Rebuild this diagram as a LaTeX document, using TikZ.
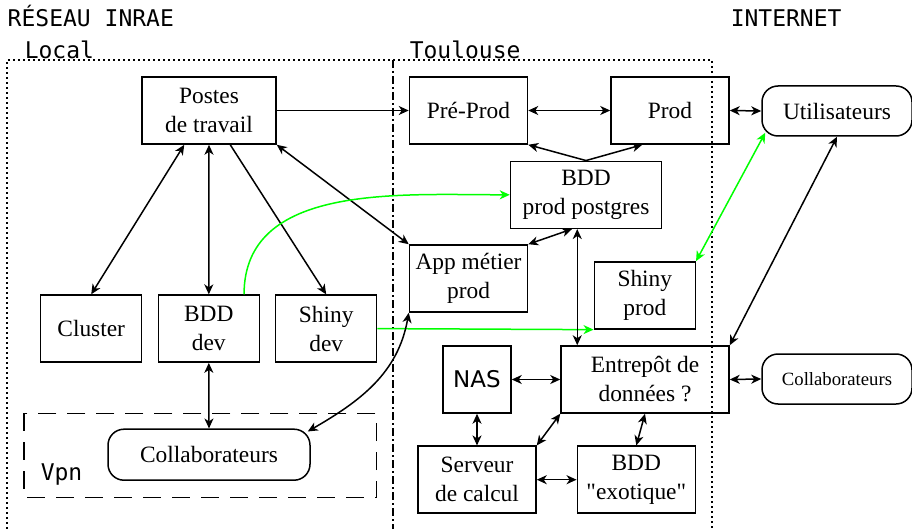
\documentclass[tikz,border=0pt]{standalone}
\usepackage{fontspec}
\newfontfamily\serif{Liberation Serif}
\newfontfamily\monof{DejaVu Sans Mono}
\newfontfamily\sansf{DejaVu Sans}
\usetikzlibrary{arrows.meta,calc}
\begin{document}
\begin{tikzpicture}[x=1pt,y=1pt,
  every path/.style={line width=1.5pt},
  >={Stealth[length=10pt,width=9pt,inset=3pt]},
  box/.style={draw,line width=1.5pt,inner sep=0pt,align=center,
    font=\serif\fontsize{23.4}{29}\selectfont},
  rbox/.style={box,rounded corners=16pt},
  zone/.style={font=\monof\fontsize{23}{28}\selectfont,anchor=base west,inner sep=0pt},
  dotline/.style={dash pattern=on 2pt off 3pt},
  dashdotline/.style={dash pattern=on 8pt off 3pt on 2pt off 3pt},
  vpnline/.style={dash pattern=on 18pt off 11pt},
  gline/.style={draw=green}]
\useasboundingbox (0,0) rectangle (912,-529);
% zones
\draw[dotline] (7,-529) -- (7,-60) -- (393,-60);
\draw[dotline] (393,-60) -- (712,-60) -- (712,-529);
\draw[dashdotline] (393,-60) -- (393,-529);
\draw[vpnline] (24,-413.3) rectangle (376.7,-497.3);
\node[zone] (reseau) at (7,-27) {RÉSEAU INRAE};
\node[zone] (internet) at (730,-27) {INTERNET};
\node[zone] (local) at (24,-59) {Local};
\node[zone] (toulouse) at (409,-59) {Toulouse};
\node[zone] (vpn) at (40,-480) {Vpn};
% nodes
\node[box,minimum width=134pt,minimum height=67pt] (postes) at (209,-110.5) {Postes\\de travail};
\node[box,minimum width=118pt,minimum height=67pt] (preprod) at (468.5,-110.5) {Pré-Prod};
\node[box,minimum width=118pt,minimum height=67pt] (prod) at (670,-110.5) {Prod};
\node[rbox,minimum width=150pt,minimum height=50pt] (util) at (837,-111) {Utilisateurs};
\node[box,minimum width=151pt,minimum height=67pt] (bddp) at (586,-194.8) {BDD\\prod postgres};
\node[box,minimum width=118pt,minimum height=67pt] (app) at (468.5,-278.5) {App métier\\prod};
\node[box,minimum width=101pt,minimum height=67pt] (shinyp) at (644.8,-295.4) {Shiny\\prod};
\node[box,minimum width=101pt,minimum height=67pt] (cluster) at (91.2,-328.6) {Cluster};
\node[box,minimum width=101pt,minimum height=67pt] (bdddev) at (208.8,-328.6) {BDD\\dev};
\node[box,minimum width=101pt,minimum height=67pt] (shinydev) at (326.2,-328.6) {Shiny\\dev};
\node[box,minimum width=168pt,minimum height=67pt] (entrepot) at (645,-379.5) {Entrepôt de\\données ?};
\node[box,minimum width=68pt,minimum height=67pt,font=\sansf\fontsize{23}{28}\selectfont] (nas) at (477,-379.5) {NAS};
\node[box,minimum width=118pt,minimum height=67pt] (serveur) at (477,-479.7) {Serveur\\de calcul};
\node[box,minimum width=118pt,minimum height=67pt] (bddexo) at (636.3,-479.7) {BDD\\"exotique"};
\node[rbox,minimum width=150pt,minimum height=50pt,font=\serif\fontsize{18.7}{23}\selectfont] (collabR) at (837,-379) {Collaborateurs};
\node[rbox,minimum width=202pt,minimum height=51pt] (collabL) at (209,-454.7) {Collaborateurs};
% connectors
\draw[->] (postes.east) -- (preprod.west);
\draw[<->] (preprod.east) -- (prod.west);
\draw[<->] (prod.east) -- (util.west);
\draw[->] (bddp.north) -- (preprod.south east);
\coordinate (prodin) at ($(prod.south west)+(32,0)$);
\draw[->] (bddp.north) -- (prodin);
\coordinate (pc) at ($(postes.south west)+(43,0)$);
\draw[<->] (pc) -- (cluster.north);
\draw[<->] (postes.south) -- (bdddev.north);
\coordinate (ps) at ($(postes.south west)+(89,0)$);
\draw[->] (ps) -- (shinydev.north);
\draw[<->] (postes.south east) -- (app.north west);
\coordinate (bdo) at ($(bdddev.north east)+(-16,0)$);
\draw[gline,->] (bdo) to[out=90,in=180] (bddp.west);
\draw[gline,->] (shinydev.east) -- (shinyp.south west);
\coordinate (usw) at ($(util.south west)+(4,4)$);
\draw[gline,<->] (shinyp.north east) -- (usw);
\draw[<->] (util.south) -- (entrepot.north east);
\coordinate (bps) at ($(bddp.south)+(-14,0)$);
\draw[<->] (app.north east) -- (bps);
\coordinate (ev) at ($(entrepot.north west)+(17,0)$);
\draw[<->] (ev) -- (ev |- bddp.south);
\coordinate (cne) at ($(collabL.north east)+(-3,-3)$);
\draw[<->] (app.south west) to[out=-100,in=30] (cne);
\draw[<->] (bdddev.south) -- (collabL.north);
\draw[<->] (nas.east) -- (entrepot.west);
\draw[<->] (nas.south) -- (serveur.north);
\draw[<->] (entrepot.south west) -- (serveur.north east);
\draw[<->] (entrepot.south) -- (bddexo.north);
\draw[<->] (serveur.east) -- (bddexo.west);
\draw[<->] (entrepot.east) -- (collabR.west);
\end{tikzpicture}
\end{document}
